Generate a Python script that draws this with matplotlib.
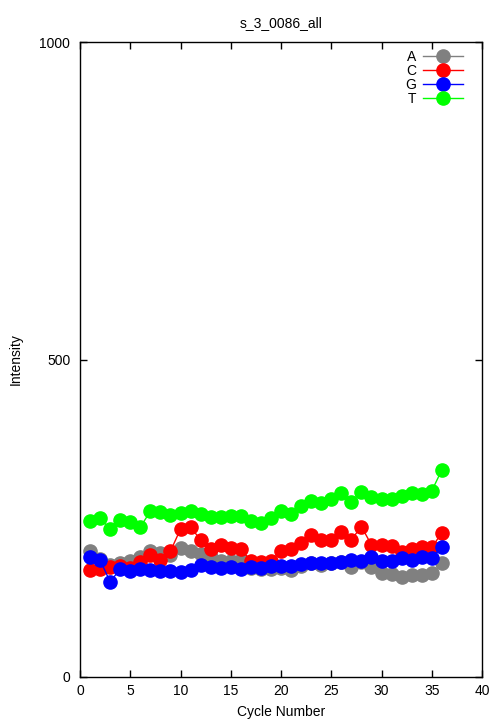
import numpy as np
import matplotlib
matplotlib.use('Agg')
import matplotlib.pyplot as plt

# intensity per cycle for each base
cycles = np.arange(1, 37)
A = [198, 186, 176, 180, 183, 189, 198, 195, 192, 203, 198, 194, 189, 183, 183, 184, 172, 170,
     170, 172, 168, 175, 180, 176, 180, 181, 173, 181, 174, 164, 162, 157, 160, 160, 163, 179]
C = [168, 170, 173, 175, 172, 181, 192, 184, 198, 233, 236, 216, 202, 208, 203, 202, 183, 181,
     183, 198, 202, 211, 224, 216, 216, 228, 216, 237, 208, 208, 207, 197, 202, 204, 204, 227]
G = [189, 184, 150, 170, 167, 170, 168, 167, 167, 165, 168, 176, 173, 172, 173, 170, 173, 172,
     175, 175, 175, 178, 180, 180, 180, 181, 185, 182, 189, 183, 182, 187, 184, 189, 188, 204]
T = [246, 250, 233, 247, 244, 236, 261, 260, 255, 258, 261, 257, 252, 252, 254, 254, 246, 243,
     250, 261, 257, 269, 277, 274, 280, 289, 276, 292, 283, 281, 280, 285, 289, 288, 293, 326]

series = [('A', A, '#808080'), ('C', C, '#ff0000'), ('G', G, '#0000ff'), ('T', T, '#00ff00')]

plt.rcParams['font.family'] = ['Liberation Sans', 'DejaVu Sans']

fig = plt.figure(figsize=(5.04, 7.2), dpi=100)
ax = fig.add_axes([80/504, 43/720, 402/504, 635/720])

for name, vals, col in series:
    ax.plot(cycles, vals, color=col, lw=1, marker='o', ms=9.5, mec=col, mfc=col, label=name)

ax.set_xlim(0, 40)
ax.set_ylim(0, 1000)
ax.set_xticks(range(0, 41, 5))
ax.set_yticks([0, 500, 1000])
ax.tick_params(direction='in', length=5, width=1, labelsize=10, top=True, right=True)
ax.tick_params(axis='x', pad=5)
ax.tick_params(axis='y', pad=7)
for s in ax.spines.values():
    s.set_linewidth(1)
ax.set_xlabel('Cycle Number', fontsize=10, labelpad=5)
ax.set_ylabel('Intensity', fontsize=10, labelpad=12)
ax.set_title('s_3_0086_all', fontsize=10, pad=11)

ax.legend(loc='upper right', bbox_to_anchor=(0.953, 0.988), frameon=False, markerfirst=False,
          fontsize=10, handlelength=2.9, handletextpad=0.5, labelspacing=0.0, borderpad=0,
          borderaxespad=0)

plt.savefig('out.png', dpi=100)
